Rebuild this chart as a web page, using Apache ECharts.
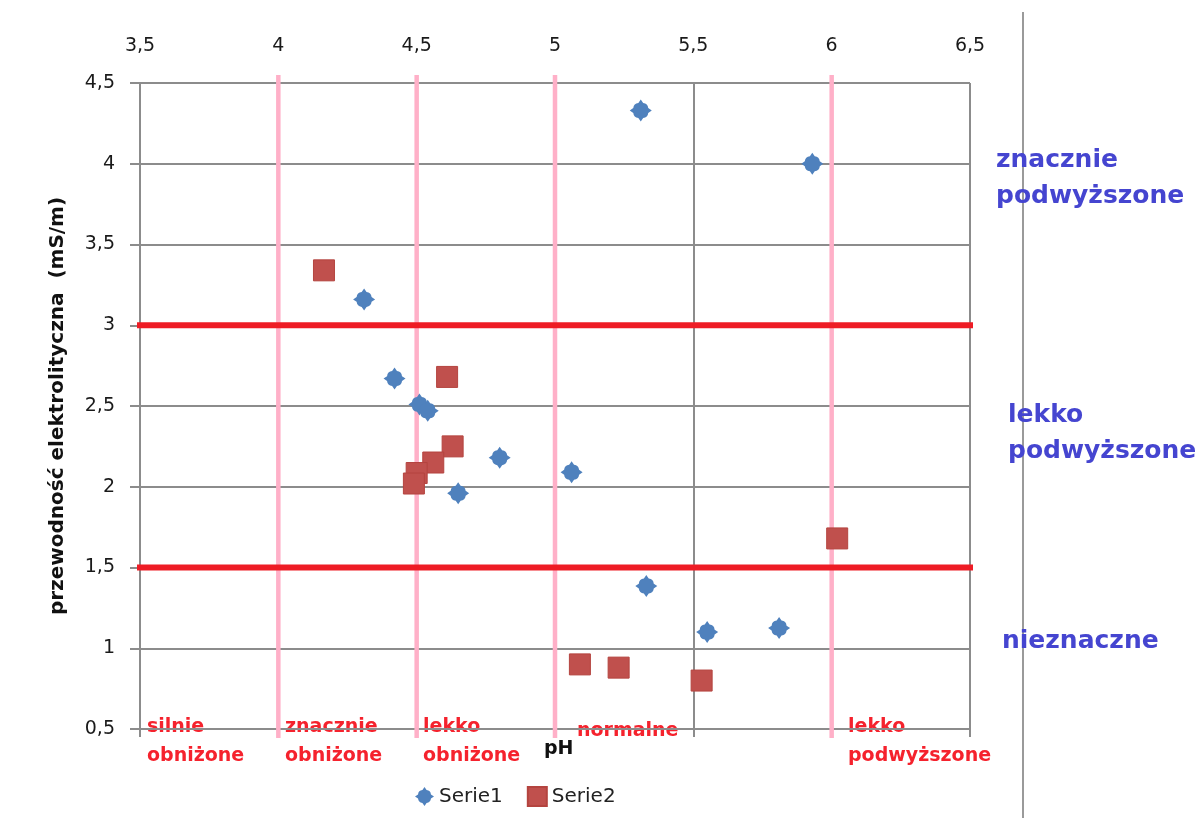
<!DOCTYPE html>
<html>
<head>
<meta charset="utf-8">
<script src="https://cdn.jsdelivr.net/npm/echarts@6/dist/echarts.min.js"></script>
<style>
  html, body { margin: 0; padding: 0; background: #ffffff; }
  #chart { width: 1203px; height: 818px; }
</style>
</head>
<body>
<div id="chart"></div>
<script>
// pH (x) vs electrolytic conductivity in mS/m (y)
const serie1 = [
  [5.31, 4.33], [5.93, 4.00], [4.31, 3.16], [4.42, 2.67], [4.51, 2.51],
  [4.54, 2.47], [4.65, 1.96], [4.80, 2.18], [5.06, 2.09], [5.33, 1.385],
  [5.55, 1.10], [5.81, 1.125]
];
const serie2 = [
  [4.165, 3.34], [4.61, 2.68], [4.63, 2.25], [4.56, 2.15], [4.50, 2.085],
  [4.49, 2.02], [5.09, 0.90], [5.23, 0.88], [5.53, 0.80], [6.02, 1.68]
];
const seriesNames = ['Serie1', 'Serie2'];

// class boundaries
const pHBounds = [4, 4.5, 5, 6];
const conductivityBounds = [3, 1.5];

// axis ranges
const xRange = [3.5, 6.5];
const yRange = [0.5, 4.5];
const tickStep = 0.5;

// class names
const pHClasses = [
  { text: 'silnie\nobniżone', x: 147 },
  { text: 'znacznie\nobniżone', x: 285 },
  { text: 'lekko\nobniżone', x: 423 },
  { text: 'normalne', x: 577 },
  { text: 'lekko\npodwyższone', x: 848 }
];
const conductivityClasses = [
  { text: 'znacznie\npodwyższone', x: 996, y: 142 },
  { text: 'lekko\npodwyższone', x: 1008, y: 397 },
  { text: 'nieznaczne', x: 1002, y: 623 }
];

const commaFmt = v => String(v).replace('.', ',');
const starPath = 'path://M0,-10 L2.2,-6.8 C5,-6.5 6.5,-5 6.8,-2.2 L10,0 L6.8,2.2 C6.5,5 5,6.5 2.2,6.8 L0,10 L-2.2,6.8 C-5,6.5 -6.5,5 -6.8,2.2 L-10,0 L-6.8,-2.2 C-6.5,-5 -5,-6.5 -2.2,-6.8 Z';

const gridColor = '#8c8c8c';
const baseFont = '"DejaVu Sans", Verdana, sans-serif';

const chart = echarts.init(document.getElementById('chart'), null, { renderer: 'canvas' });

const guideSeries = [];
pHBounds.forEach(v => {
  guideSeries.push({
    type: 'line', data: [[v, 4.55], [v, 0.445]], clip: false, symbol: 'none',
    silent: true, z: 3, animation: false,
    lineStyle: { color: '#ffb0c8', width: 4.5 }
  });
});
conductivityBounds.forEach(v => {
  guideSeries.push({
    type: 'line', data: [[3.435, v], [6.55, v]], clip: false, symbol: 'none',
    silent: true, z: 4, animation: false,
    lineStyle: { color: '#ee1c25', width: 6 }
  });
});

const graphics = [
  { type: 'line', shape: { x1: 1023, y1: 12, x2: 1023, y2: 818 },
    style: { stroke: '#9a9a9a', lineWidth: 2 } },
  { type: 'text', x: 544, y: 735,
    style: { text: 'pH', fill: '#111', font: 'bold 19px ' + baseFont, lineHeight: 28 } }
];
pHClasses.forEach(c => {
  graphics.push({
    type: 'text', x: c.x, y: c.text.indexOf('\n') < 0 ? 717 : 713,
    style: { text: c.text, fill: '#f5222d', font: 'bold 19px ' + baseFont, lineHeight: 29 }
  });
});
conductivityClasses.forEach(c => {
  graphics.push({
    type: 'text', x: c.x, y: c.y,
    style: { text: c.text, fill: '#4545d0', font: 'bold 25px ' + baseFont, lineHeight: 36 }
  });
});

chart.setOption({
  animation: false,
  backgroundColor: '#ffffff',
  grid: { left: 140, right: 233, top: 83, bottom: 89 },
  legend: {
    data: seriesNames,
    left: 410, top: 781,
    itemWidth: 19, itemHeight: 19, itemGap: 24,
    textStyle: { fontFamily: baseFont, fontSize: 20, color: '#222' }
  },
  xAxis: [
    {
      type: 'value', position: 'top',
      min: xRange[0], max: xRange[1], interval: tickStep,
      axisLine: { show: false },
      axisTick: { show: false },
      axisLabel: { formatter: commaFmt, margin: 27, color: '#1a1a1a', fontFamily: baseFont, fontSize: 19 },
      splitLine: { show: true, lineStyle: { color: gridColor, width: 2 } }
    },
    {
      type: 'value', position: 'bottom',
      min: xRange[0], max: xRange[1], interval: tickStep,
      axisLine: { show: false },
      axisTick: { show: true, inside: false, length: 8, lineStyle: { color: gridColor, width: 2 } },
      axisLabel: { show: false },
      splitLine: { show: false }
    }
  ],
  yAxis: {
    type: 'value',
    min: yRange[0], max: yRange[1], interval: tickStep,
    name: 'przewodność elektrolityczna  (mS/m)',
    nameLocation: 'middle', nameGap: 72, nameRotate: 90,
    nameTextStyle: { fontFamily: baseFont, fontWeight: 'bold', fontSize: 20, color: '#111' },
    axisLine: { show: true, lineStyle: { color: gridColor, width: 2 } },
    axisTick: { show: true, length: 10, lineStyle: { color: gridColor, width: 2 } },
    axisLabel: { formatter: commaFmt, margin: 25, color: '#1a1a1a', fontFamily: baseFont, fontSize: 19 },
    splitLine: { show: true, lineStyle: { color: gridColor, width: 2 } }
  },
  graphic: graphics,
  series: guideSeries.concat([
    {
      name: seriesNames[0], type: 'scatter', data: serie1, z: 6,
      symbol: starPath, symbolSize: 22,
      itemStyle: { color: '#4f81bd', opacity: 1 }
    },
    {
      name: seriesNames[1], type: 'scatter', data: serie2, z: 5,
      symbol: 'rect', symbolSize: 21,
      itemStyle: { color: '#c0504d', borderColor: '#b4443f', borderWidth: 1, opacity: 1 }
    }
  ])
});
</script>
</body>
</html>
